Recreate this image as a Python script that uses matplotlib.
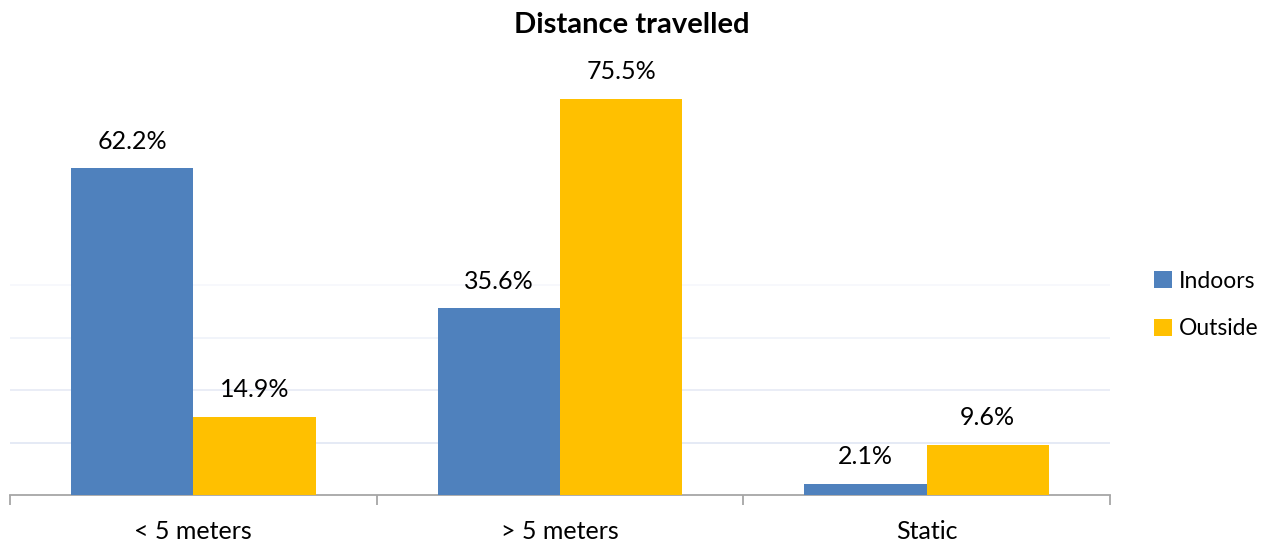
import matplotlib
matplotlib.use("Agg")
import matplotlib.pyplot as plt
import numpy as np

categories = ["< 5 meters", "> 5 meters", "Static"]
series_names = ["Indoors", "Outside"]
indoors = [62.2, 35.6, 2.1]
outside = [14.9, 75.5, 9.6]
title = "Distance travelled"

colors = ["#4F81BD", "#FFC000"]
plt.rcParams['font.family'] = ['Lato', 'DejaVu Sans']

W, H = 1271, 546
fig = plt.figure(figsize=(W / 100, H / 100), dpi=100)
ax = fig.add_axes([10 / W, (H - 495) / H, 1100 / W, 420 / H])

x = np.arange(len(categories))
bw = 1 / 3
b1 = ax.bar(x - bw / 2, indoors, bw, color=colors[0], label=series_names[0], zorder=3)
b2 = ax.bar(x + bw / 2, outside, bw, color=colors[1], label=series_names[1], zorder=3)

for bars, vals in ((b1, indoors), (b2, outside)):
    for r, v in zip(bars, vals):
        ax.annotate(f"{v:.1f}%", (r.get_x() + r.get_width() / 2, v),
                    xytext=(0, 19.5), textcoords="offset points",
                    ha="center", va="center", fontsize=18, color="#000000")

grid_cols = ["#E3E8F4", "#E8ECF6", "#F0F3FA", "#F7F8FC"]
for lvl, c in zip([10, 20, 30, 40], grid_cols):
    ax.axhline(lvl, color=c, lw=1.3, zorder=1)

ax.set_xlim(-0.5, len(categories) - 0.5)
ax.set_ylim(0, 80)
ax.set_yticks([])
for s in ["left", "right", "top"]:
    ax.spines[s].set_visible(False)
ax.spines["bottom"].set_color("#A6A6A6")
ax.spines["bottom"].set_linewidth(1.3)
ax.set_xticks(np.arange(-0.5, len(categories), 1.0))
ax.set_xticklabels([])
ax.tick_params(axis="x", which="major", length=7, color="#A6A6A6", width=1.3)
ax.set_xticks(x, minor=True)
ax.set_xticklabels(categories, minor=True, fontsize=18)
ax.tick_params(axis="x", which="minor", length=0, pad=18)

fig.text(632 / W, 1 - 25 / H, title, ha="center", va="center",
         fontsize=21, fontweight="bold")

ax.legend(loc="center left", bbox_to_anchor=(1143 / W, 1 - 305 / H),
          bbox_transform=fig.transFigure, frameon=False, fontsize=16.5,
          handlelength=0.75, handleheight=0.75, handletextpad=0.3,
          labelspacing=1.15, borderpad=0)

fig.savefig("out.png", dpi=100)
